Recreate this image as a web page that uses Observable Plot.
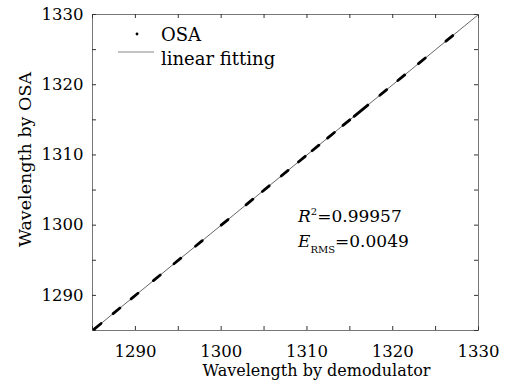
<!DOCTYPE html>
<html><head><meta charset="utf-8">
<script src="https://cdn.jsdelivr.net/npm/d3@7"></script>
<script src="https://cdn.jsdelivr.net/npm/@observablehq/plot@0.6"></script>
<style>body{margin:0;background:#fff;} svg{display:block;}</style>
</head><body><div id="chart"></div>
<script>
const axisDomain = [1285, 1330];
const majorTicks = [1290, 1300, 1310, 1320, 1330];
const minorTicks = [1285, 1295, 1305, 1315, 1325];
// OSA measurements appear as short dense clusters along the diagonal (start/end of each cluster)
const demodStart = [1285.2, 1287.4, 1289.5, 1292.1, 1294.5, 1297.0, 1300.0, 1302.9, 1304.8, 1307.0, 1309.0, 1310.6, 1312.4, 1314.2, 1315.5, 1318.5, 1320.6, 1323.0, 1326.2];
const demodEnd   = [1286.0, 1288.2, 1290.3, 1292.9, 1295.3, 1297.8, 1300.8, 1303.7, 1305.6, 1307.8, 1309.8, 1311.4, 1313.2, 1315.0, 1317.1, 1319.3, 1321.4, 1323.8, 1327.0];
const osaStart   = [1285.2, 1287.4, 1289.5, 1292.1, 1294.5, 1297.0, 1300.0, 1302.9, 1304.8, 1307.0, 1309.0, 1310.6, 1312.4, 1314.2, 1315.5, 1318.5, 1320.6, 1323.0, 1326.2];
const osaEnd     = [1286.0, 1288.2, 1290.3, 1292.9, 1295.3, 1297.8, 1300.8, 1303.7, 1305.6, 1307.8, 1309.8, 1311.4, 1313.2, 1315.0, 1317.1, 1319.3, 1321.4, 1323.8, 1327.0];
const fitX = [1285, 1330];
const fitY = [1285, 1330];
const xTitle = "Wavelength by demodulator";
const yTitle = "Wavelength by OSA";
const legendLabels = ["OSA", "linear fitting"];

const clusters = demodStart.map((d, i) => ({x1: d, x2: demodEnd[i], y1: osaStart[i], y2: osaEnd[i]}));
const fit = fitX.map((x, i) => ({x, y: fitY[i]}));

const FONT = "DejaVu Serif";
const W = 519, H = 392, mL = 92, mR = 41, mT = 14, mB = 62;
const innerH = H - mT - mB, innerW = W - mL - mR;

const chart = Plot.plot({
  width: W, height: H,
  marginLeft: mL, marginRight: mR, marginTop: mT, marginBottom: mB,
  style: {fontFamily: FONT, background: "#fff", color: "#000"},
  x: {domain: axisDomain, axis: null},
  y: {domain: axisDomain, axis: null},
  marks: [
    Plot.frame({stroke: "#777", strokeWidth: 1}),
    // inward ticks on all four sides
    Plot.tickX(majorTicks.concat(minorTicks), {x: d => d, insetTop: innerH - 4, stroke: "#333"}),
    Plot.tickX(majorTicks.concat(minorTicks), {x: d => d, insetBottom: innerH - 4, stroke: "#333"}),
    Plot.tickY(majorTicks.concat(minorTicks), {y: d => d, insetRight: innerW - 4, stroke: "#333"}),
    Plot.tickY(majorTicks.concat(minorTicks), {y: d => d, insetLeft: innerW - 4, stroke: "#333"}),
    Plot.axisX(majorTicks, {anchor: "bottom", tickSize: 0, tickPadding: 15, fontSize: 16.5, tickFormat: d => String(d)}),
    Plot.axisY(majorTicks, {anchor: "left", tickSize: 0, tickPadding: 9, fontSize: 16.5, tickFormat: d => String(d)}),
    Plot.line(fit, {x: "x", y: "y", stroke: "#666", strokeWidth: 1}),
    Plot.link(clusters, {x1: "x1", y1: "y1", x2: "x2", y2: "y2", stroke: "#000", strokeWidth: 2.8, strokeLinecap: "round"}),
    Plot.text([xTitle], {frameAnchor: "bottom", dx: 31, dy: 45, lineAnchor: "bottom", textAnchor: "middle", fontSize: 16, fill: "#000"}),
    Plot.text([yTitle], {frameAnchor: "left", dx: -62, dy: -13, rotate: -90, lineAnchor: "bottom", textAnchor: "middle", fontSize: 17.5, fill: "#000"})
  ]
});

const svg = d3.select(chart);
// legend
svg.append("circle").attr("cx", 137).attr("cy", 34).attr("r", 1.4).attr("fill", "#000");
svg.append("line").attr("x1", 118).attr("x2", 154).attr("y1", 52).attr("y2", 52).attr("stroke", "#888").attr("stroke-width", 1);
svg.append("text").attr("x", 161).attr("y", 41).attr("text-anchor", "start").attr("font-family", FONT).attr("font-size", 18).attr("fill", "#000").text(legendLabels[0]);
svg.append("text").attr("x", 161).attr("y", 65).attr("text-anchor", "start").attr("font-family", FONT).attr("font-size", 18).attr("fill", "#000").text(legendLabels[1]);
// statistics annotation
const t1 = svg.append("text").attr("x", 298).attr("y", 222).attr("text-anchor", "start").attr("font-family", FONT).attr("font-size", 17).attr("fill", "#000");
t1.append("tspan").attr("font-style", "italic").text("R");
t1.append("tspan").attr("font-size", 10).attr("dy", -7).text("2");
t1.append("tspan").attr("dy", 7).text("=0.99957");
const t2 = svg.append("text").attr("x", 298).attr("y", 247).attr("text-anchor", "start").attr("font-family", FONT).attr("font-size", 17).attr("fill", "#000");
t2.append("tspan").attr("font-style", "italic").text("E");
t2.append("tspan").attr("font-size", 10).attr("dy", 6).text("RMS");
t2.append("tspan").attr("dy", -6).text("=0.0049");

document.getElementById("chart").append(chart);
</script>
</body></html>
